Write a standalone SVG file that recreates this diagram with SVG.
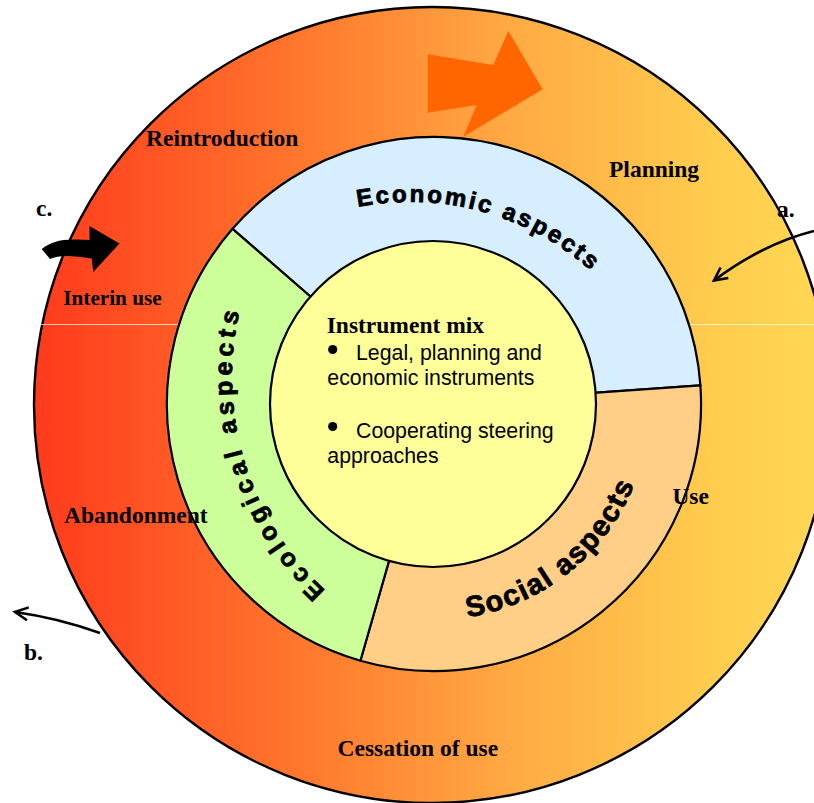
<svg xmlns="http://www.w3.org/2000/svg" width="814" height="803" viewBox="0 0 814 803">
<defs>
<linearGradient id="ringGrad" gradientUnits="userSpaceOnUse" x1="34" y1="0" x2="830" y2="0">
<stop offset="0" stop-color="#FF3A1C"/>
<stop offset="0.35" stop-color="#FF7A2E"/>
<stop offset="0.6" stop-color="#FFAA44"/>
<stop offset="0.85" stop-color="#FFCC4E"/>
<stop offset="1" stop-color="#FFD855"/>
</linearGradient>
<marker id="openArrow" markerUnits="userSpaceOnUse" markerWidth="20" markerHeight="20" viewBox="-16 -10 20 20" refX="0" refY="0" orient="auto" overflow="visible">
<path d="M-13,-6.5 L0,0 L-13,6.5" fill="none" stroke="#000" stroke-width="2.6"/>
</marker>
<path id="econPath" d="M357.9,207 A273,273 0 0 1 646.4,338.5"/>
<path id="ecoPath" d="M325.7,590.5 A290,290 0 0 1 270.9,232"/>
<path id="socPath" d="M467.8,617.3 A216,216 0 0 0 646.7,441.5"/>
</defs>
<style>
.lbl{font-family:"Liberation Serif","Times New Roman",serif;font-weight:bold;font-size:23.5px;fill:#000}
.asp{font-family:"Liberation Sans",Arial,sans-serif;font-weight:bold;fill:#000;stroke:#000;stroke-width:0.8}
.body{font-family:"Liberation Sans",Arial,sans-serif;font-size:21.3px;fill:#000}
.seg{stroke:#000;stroke-width:2.2;stroke-linejoin:round}
.conn{fill:none;stroke:#000;stroke-width:2.6;marker-end:url(#openArrow)}
</style>
<rect width="814" height="803" fill="#fff"/>

<g id="lifecycle-ring">
<circle cx="432" cy="405" r="398" fill="url(#ringGrad)" stroke="#000" stroke-width="2.4"/>
<line x1="40" y1="324.5" x2="814" y2="324.5" stroke="#fff" stroke-opacity="0.7" stroke-width="1"/>
<polygon points="427.7,54.3 493.3,65 508.3,31 542.7,89.3 463.3,136.7 476.7,105 427.7,112.7" fill="#FF6600"/>
<path d="M41.7,249 C52,241 62,238 89.5,240 L89.5,226 L119.5,243.5 L93.3,272 L91.7,258.5 C75,256 60,254 50,259 Z" fill="#000"/>
</g>

<g id="economic-aspects">
<path class="seg" d="M434,404 L232.5,228.8 A267,267 0 0 1 700.4,385.4 Z" fill="#D6EEFF"/>
<text class="asp" font-size="24" letter-spacing="2.6"><textPath href="#econPath">Economic aspects</textPath></text>
</g>

<g id="social-aspects">
<path class="seg" d="M434,404 L700.4,385.4 A267,267 0 0 1 360.4,660.7 Z" fill="#FFCF88"/>
<text class="asp" font-size="29" letter-spacing="1.6"><textPath href="#socPath">Social aspects</textPath></text>
</g>

<g id="ecological-aspects">
<path class="seg" d="M434,404 L360.4,660.7 A267,267 0 0 1 232.5,228.8 Z" fill="#CCFF99"/>
<text class="asp" font-size="25" letter-spacing="4.7"><textPath href="#ecoPath">Ecological aspects</textPath></text>
</g>

<g id="instrument-mix">
<circle cx="433" cy="404" r="163" fill="#FFFF99" stroke="#000" stroke-width="2.2"/>
<text class="lbl" x="326.7" y="333">Instrument mix</text>
<circle cx="332.7" cy="349.5" r="4.6" fill="#000"/>
<text class="body" x="356" y="360">Legal, planning and</text>
<text class="body" x="327.3" y="385">economic instruments</text>
<circle cx="332.7" cy="426.5" r="4.6" fill="#000"/>
<text class="body" x="356" y="438">Cooperating steering</text>
<text class="body" x="327.3" y="463">approaches</text>
</g>

<g id="stage-labels">
<text class="lbl" x="146" y="145.5">Reintroduction</text>
<text class="lbl" x="609" y="177">Planning</text>
<text class="lbl" x="63.3" y="305" style="font-size:21.2px">Interin use</text>
<text class="lbl" x="64" y="523">Abandonment</text>
<text class="lbl" x="672.4" y="504">Use</text>
<text class="lbl" x="337.5" y="756">Cessation of use</text>
</g>

<g id="connectors">
<path class="conn" d="M814,231 Q763,243.8 714,280.5"/>
<path class="conn" d="M100,633 Q58,618 15,612"/>
</g>

<g id="side-labels">
<text class="lbl" x="36" y="216">c.</text>
<text class="lbl" x="777" y="217">a.</text>
<text class="lbl" x="24" y="660">b.</text>
</g>
</svg>
